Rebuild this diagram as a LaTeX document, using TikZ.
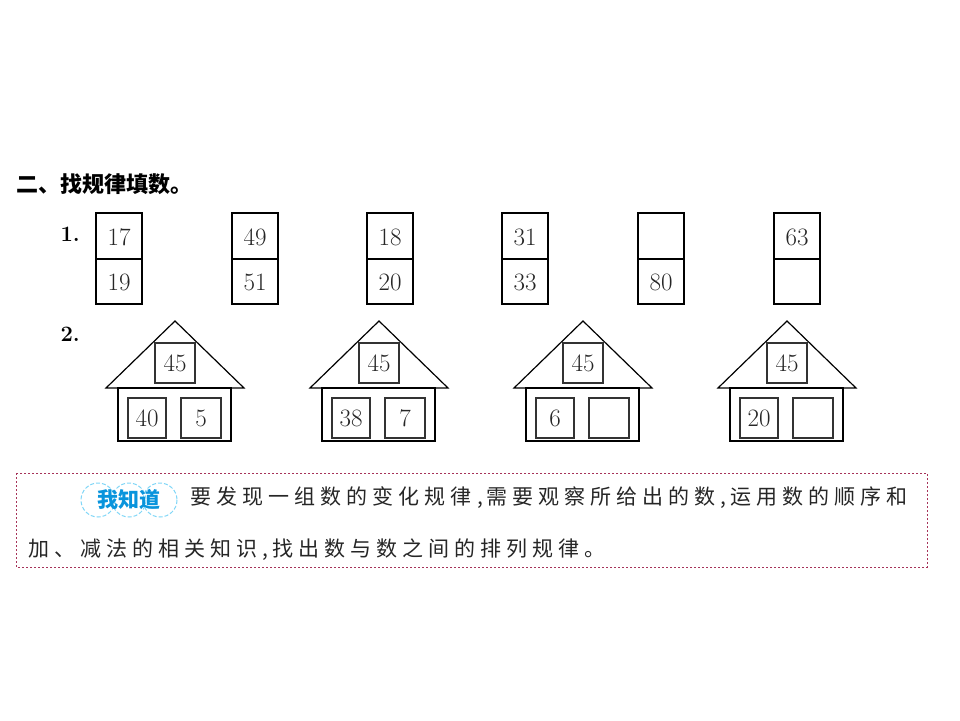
\documentclass[tikz,border=0pt]{standalone}
\usepackage{fontspec}
\newfontfamily\cjk{Noto Sans CJK SC}
\newfontfamily\cjksp[LetterSpace=24]{Noto Sans CJK SC}
\begin{document}
\begin{tikzpicture}[x=1pt,y=-1pt,line width=1.2pt,
  num/.style={font=\fontsize{25}{25}\selectfont,text=black!85},
  cell/.style={draw=black!80,line width=1.3pt,minimum width=40pt,minimum height=40pt,inner sep=0pt,num},
  txt/.style={font=\cjksp\fontsize{21}{21}\selectfont,anchor=west,inner sep=0pt,text=black!85}]
\useasboundingbox (0,0) rectangle (960,720);
\node[font=\cjk\bfseries\fontsize{22}{22}\selectfont,anchor=west,inner sep=0pt] (title) at (16,184) {二、找规律填数。};
\node[font=\bfseries\fontsize{22}{22}\selectfont,anchor=west,inner sep=0pt] (n1) at (60,234) {1.};
\node[font=\bfseries\fontsize{22}{22}\selectfont,anchor=west,inner sep=0pt] (n2) at (60,334) {2.};
\foreach \x/\a/\b [count=\i] in {96/17/19,232/49/51,367/18/20,502/31/33,638//80,774/63/}{
  \draw (\x,213) rectangle (\x+46,304);
  \draw (\x,259) -- (\x+46,259);
  \node[num] (d\i a) at (\x+23,237) {\a};
  \node[num] (d\i b) at (\x+23,282) {\b};
}
\foreach \c/\l/\r [count=\i] in {175/40/5,379/38/7,583/6/,787/20/}{
  \draw (\c-69,388) -- (\c,321) -- (\c+69,388) -- cycle;
  \draw (\c-57,388) rectangle (\c+56,441);
  \node[cell] (t\i) at (\c,363) {45};
  \node[cell,minimum width=38pt] (l\i) at (\c-28,418) {\l};
  \node[cell] (r\i) at (\c+26,418) {\r};
}
\draw[line width=0.6pt,draw=purple!60!gray,dash pattern=on 2pt off 2pt] (16,473) rectangle (927,567);
\foreach \xx in {98,129,160}{
  \draw[cyan!50,line width=1pt,dash pattern=on 4pt off 2pt] (\xx,500) circle (17);
}
\node[font=\cjk\bfseries\fontsize{21}{21}\selectfont,text=cyan!80!blue,anchor=center] (k) at (129,500) {我知道};
\node[txt] (line1) at (190,498) {要发现一组数的变化规律,\,需要观察所给出的数,\,运用数的顺序和};
\node[txt] (line2) at (28,550) {加、减法的相关知识,\,找出数与数之间的排列规律。};
\end{tikzpicture}
\end{document}
